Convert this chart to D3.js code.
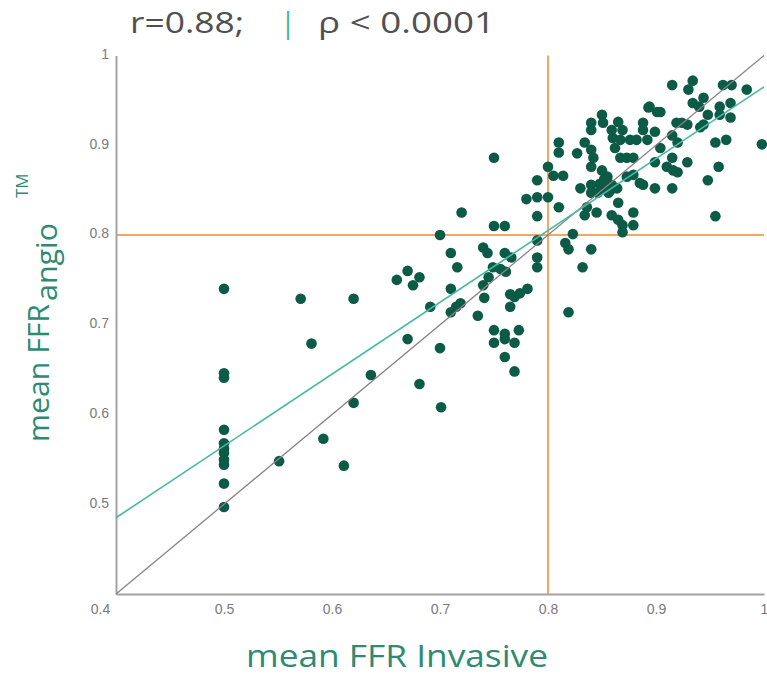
<!DOCTYPE html>
<html>
<head>
<meta charset="utf-8">
<script src="https://cdnjs.cloudflare.com/ajax/libs/d3/7.8.5/d3.min.js"></script>
<style>
  body { margin: 0; background: #fff; }
  svg { display: block; font-family: "Open Sans", "DejaVu Sans", sans-serif; }
</style>
</head>
<body>
<div id="chart"></div>
<script>
// FFR invasive (x) vs FFR angio (y)
const ffrInvasive = [
  0.50, 0.50, 0.50, 0.50, 0.50, 0.50, 0.50, 0.50, 0.50, 0.50, 0.50,
  0.551, 0.571, 0.581, 0.592, 0.611, 0.620, 0.620, 0.636, 0.660,
  0.670, 0.681, 0.675, 0.670, 0.681, 0.701, 0.691, 0.700, 0.700, 0.710,
  0.716, 0.710, 0.719, 0.715, 0.710, 0.720, 0.735, 0.740, 0.744, 0.749,
  0.756, 0.761, 0.745, 0.740, 0.741, 0.750, 0.750, 0.760, 0.760, 0.766,
  0.781, 0.774, 0.769, 0.765, 0.765, 0.750, 0.760, 0.773, 0.750, 0.760,
  0.769, 0.760, 0.769, 0.780,
  0.790, 0.790, 0.790, 0.790, 0.790, 0.790, 0.800,
  0.850, 0.851, 0.840, 0.840, 0.865, 0.859, 0.869, 0.888, 0.892, 0.893,
  0.860, 0.867, 0.876, 0.882, 0.810, 0.810, 0.827, 0.834, 0.840, 0.842,
  0.862, 0.867, 0.873, 0.879, 0.800, 0.805, 0.814, 0.840, 0.850, 0.855,
  0.855, 0.851, 0.859, 0.864, 0.852, 0.848, 0.858, 0.873, 0.879, 0.885,
  0.840, 0.830, 0.840, 0.846, 0.856, 0.810, 0.865, 0.836, 0.845, 0.834,
  0.859, 0.865, 0.869, 0.869, 0.879, 0.879, 0.823, 0.816, 0.819, 0.840,
  0.832, 0.819,
  0.934, 0.930, 0.915, 0.962, 0.970, 0.984, 0.934, 0.940, 0.944, 0.894,
  0.901, 0.904, 0.959, 0.959, 0.969, 0.948, 0.969, 0.888, 0.919, 0.924,
  0.929, 0.941, 0.944, 0.899, 0.915, 0.920, 0.955, 0.965, 0.904, 0.998,
  0.915, 0.899, 0.929, 0.910, 0.916, 0.920, 0.958, 0.948, 0.888, 0.899,
  0.915, 0.955
];
const ffrAngio = [
  0.740, 0.646, 0.641, 0.583, 0.568, 0.562, 0.557, 0.550, 0.544, 0.523, 0.497,
  0.548, 0.729, 0.679, 0.573, 0.543, 0.729, 0.613, 0.644, 0.750,
  0.760, 0.753, 0.744, 0.684, 0.634, 0.608, 0.720, 0.674, 0.800, 0.780,
  0.764, 0.740, 0.724, 0.720, 0.714, 0.825, 0.710, 0.786, 0.780, 0.764,
  0.762, 0.759, 0.753, 0.744, 0.730, 0.886, 0.810, 0.810, 0.780, 0.775,
  0.740, 0.735, 0.731, 0.734, 0.720, 0.694, 0.690, 0.694, 0.680, 0.684,
  0.680, 0.664, 0.648, 0.840,
  0.861, 0.842, 0.821, 0.794, 0.775, 0.764, 0.842,
  0.934, 0.925, 0.925, 0.917, 0.926, 0.917, 0.917, 0.917, 0.906, 0.942,
  0.908, 0.906, 0.906, 0.906, 0.903, 0.892, 0.891, 0.903, 0.895, 0.886,
  0.897, 0.886, 0.886, 0.886, 0.876, 0.866, 0.866, 0.876, 0.872, 0.865,
  0.858, 0.852, 0.856, 0.852, 0.862, 0.857, 0.850, 0.865, 0.867, 0.858,
  0.856, 0.852, 0.847, 0.847, 0.847, 0.831, 0.836, 0.831, 0.825, 0.822,
  0.822, 0.817, 0.811, 0.803, 0.811, 0.825, 0.801, 0.791, 0.784, 0.784,
  0.764, 0.714,
  0.972, 0.962, 0.967, 0.967, 0.967, 0.962, 0.947, 0.943, 0.953, 0.943,
  0.937, 0.937, 0.943, 0.934, 0.947, 0.934, 0.931, 0.925, 0.925, 0.925,
  0.923, 0.920, 0.923, 0.915, 0.911, 0.903, 0.903, 0.906, 0.897, 0.901,
  0.886, 0.881, 0.881, 0.876, 0.872, 0.870, 0.876, 0.861, 0.856, 0.852,
  0.852, 0.821
];

const axisTicks = [0.4, 0.5, 0.6, 0.7, 0.8, 0.9, 1];
const cutoff = 0.8;
const fitX = [0.4, 1];
const fitY = [0.485, 0.965];
const identity = [0.4, 1];

const width = 767, height = 680;
const svg = d3.select("#chart").append("svg")
  .attr("width", width)
  .attr("height", height);

const x = d3.scaleLinear().domain([0.4, 1]).range([116, 764]);
const y = d3.scaleLinear().domain([0.4, 1]).range([594, 55.5]);

const points = ffrInvasive.map((v, i) => ({x: v, y: ffrAngio[i]}));

// title (the original font is very wide, so stretch to its width)
const titleG = svg.append("g")
  .style("font-size", "29px")
  .attr("fill", "#505050");
titleG.append("text")
  .attr("x", 130).attr("y", 33)
  .attr("textLength", 114).attr("lengthAdjust", "spacingAndGlyphs")
  .text("r=0.88;");
titleG.append("text")
  .attr("x", 280).attr("y", 33)
  .attr("fill", "#3bb8a3")
  .text("|");
titleG.append("text")
  .attr("x", 318).attr("y", 33)
  .attr("textLength", 177).attr("lengthAdjust", "spacingAndGlyphs")
  .text("\u03C1 < 0.0001");

// orange cut-off lines
svg.append("line")
  .attr("x1", x(cutoff)).attr("x2", x(cutoff))
  .attr("y1", y(1)).attr("y2", y(0.4))
  .attr("stroke", "#f2a766").attr("stroke-width", 2);
svg.append("line")
  .attr("x1", x(0.4)).attr("x2", x(1))
  .attr("y1", y(cutoff)).attr("y2", y(cutoff))
  .attr("stroke", "#f2a766").attr("stroke-width", 2);

// axes
const xAxis = svg.append("g")
  .attr("transform", "translate(0," + y(0.4) + ")")
  .call(d3.axisBottom(x).tickValues(axisTicks).tickSize(0).tickPadding(10).tickFormat(d3.format("")));
const yAxis = svg.append("g")
  .attr("transform", "translate(" + x(0.4) + ",0)")
  .call(d3.axisLeft(y).tickValues(axisTicks.slice(1)).tickSize(0).tickPadding(7).tickFormat(d3.format("")));

[xAxis, yAxis].forEach(a => {
  a.select(".domain").attr("stroke", "#a3a3a3").attr("stroke-width", 2);
  a.selectAll("text")
    .style("font-size", "14px")
    .attr("fill", "#7a7a7a");
});
xAxis.selectAll(".tick text")
  .attr("dx", d => d === 0.4 ? -16 : 0);
yAxis.selectAll(".tick text").attr("dy", "0.2em");

// dots
svg.append("g")
  .selectAll("circle")
  .data(points)
  .join("circle")
    .attr("cx", d => x(d.x))
    .attr("cy", d => y(d.y))
    .attr("r", 5.3)
    .attr("fill", "#0b5b47");

// line of identity and regression line
svg.append("line")
  .attr("x1", x(identity[0])).attr("y1", y(identity[0]))
  .attr("x2", x(identity[1])).attr("y2", y(identity[1]))
  .attr("stroke", "#8c8088").attr("stroke-width", 1.3);
svg.append("line")
  .attr("x1", x(fitX[0])).attr("y1", y(fitY[0]))
  .attr("x2", x(fitX[1])).attr("y2", y(fitY[1]))
  .attr("stroke", "#46b9a4").attr("stroke-width", 1.6);

// axis titles
svg.append("text")
  .attr("x", 246)
  .attr("y", 667)
  .attr("textLength", 302).attr("lengthAdjust", "spacingAndGlyphs")
  .style("font-size", "31px")
  .attr("fill", "#2e8a73")
  .text("mean FFR Invasive");

const yTitle = svg.append("g")
  .attr("transform", "translate(49,442) rotate(-90)")
  .style("font-size", "29px")
  .attr("fill", "#2e8a73");
yTitle.append("text")
  .attr("x", 0).attr("y", 0)
  .attr("textLength", 138).attr("lengthAdjust", "spacingAndGlyphs")
  .text("mean FFR");
yTitle.append("text")
  .attr("x", 141).attr("y", 8)
  .attr("textLength", 78).attr("lengthAdjust", "spacingAndGlyphs")
  .text("angio");
yTitle.append("text")
  .attr("x", 244).attr("y", -21)
  .style("font-size", "17px")
  .text("TM");
</script>
</body>
</html>
